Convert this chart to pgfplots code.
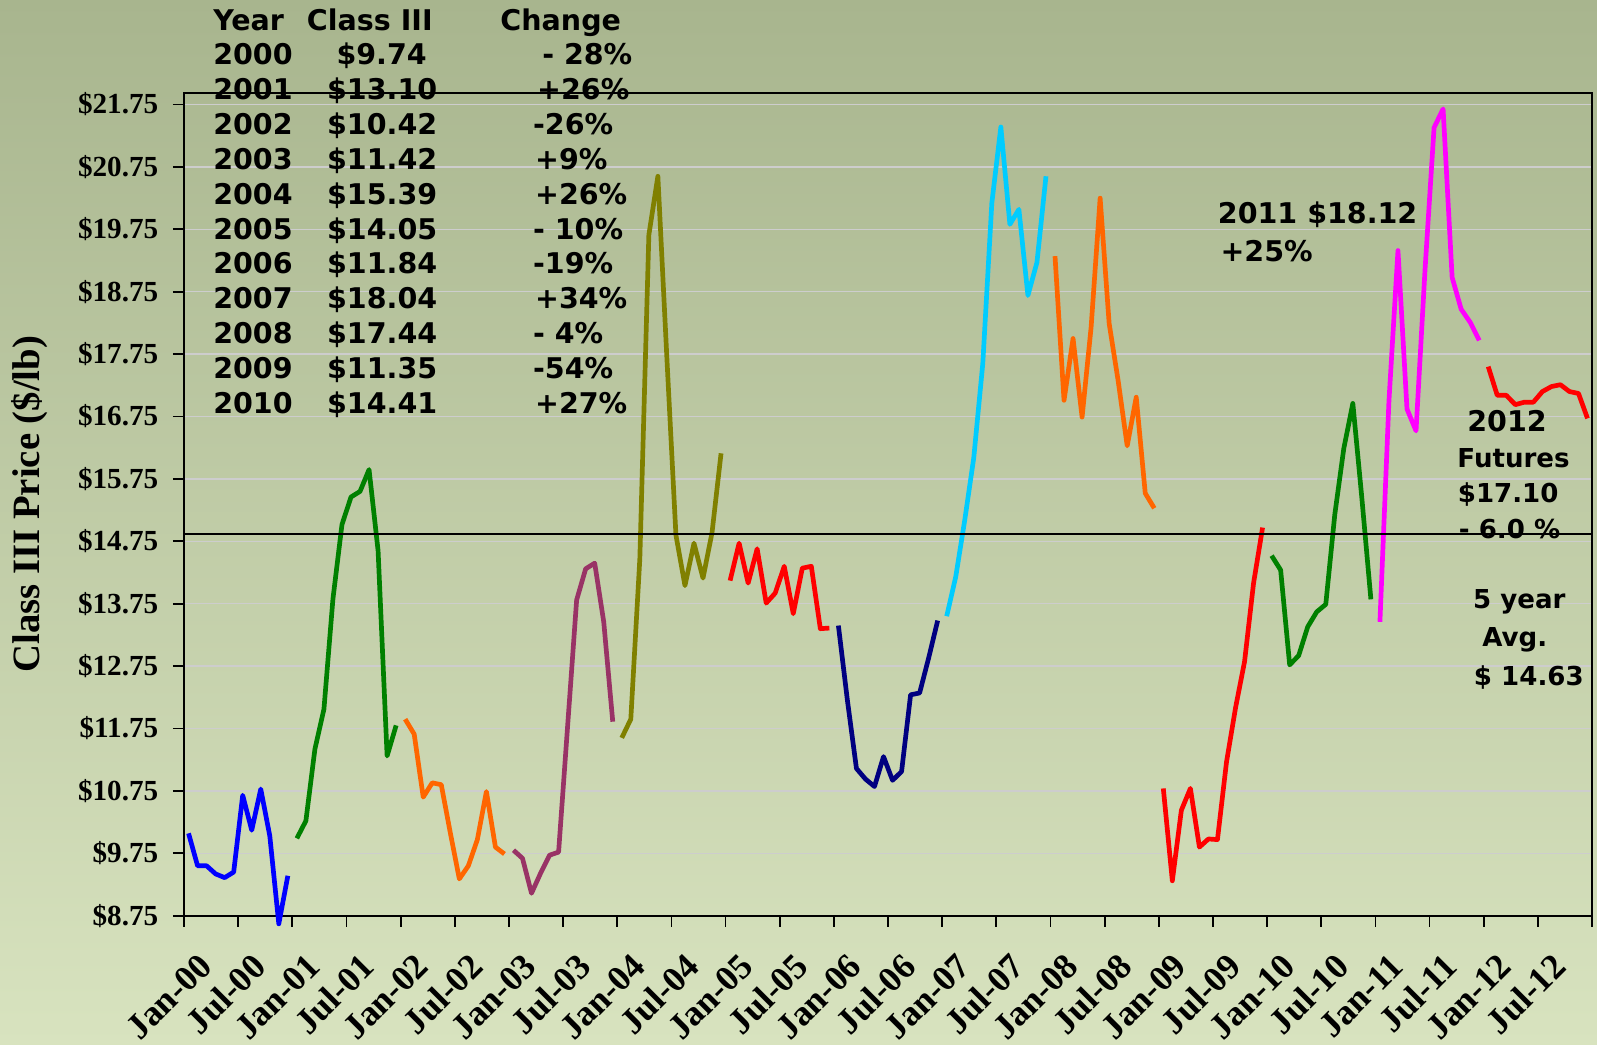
\documentclass[border=0pt]{standalone}
\usepackage{pgfplots}
\pgfplotsset{compat=1.18}
\usepackage{fontspec}
\setmainfont{Liberation Serif}
\newfontfamily\ann{DejaVu Sans}
\usetikzlibrary{shadings}
\definecolor{bgtop}{RGB}{168,181,142}
\definecolor{bgbot}{RGB}{216,227,191}
\definecolor{gridc}{RGB}{205,205,205}
\definecolor{cA}{RGB}{0,0,255}
\definecolor{cB}{RGB}{0,128,0}
\definecolor{cC}{RGB}{255,102,0}
\definecolor{cD}{RGB}{153,51,102}
\definecolor{cE}{RGB}{128,128,0}
\definecolor{cF}{RGB}{255,0,0}
\definecolor{cG}{RGB}{0,0,128}
\definecolor{cH}{RGB}{0,204,255}
\definecolor{cI}{RGB}{255,0,255}
\newcommand\tb[3]{\node[anchor=base west,inner sep=0pt,font=\ann\bfseries\fontsize{14}{14}\selectfont] at (#1pt,#2pt) {#3};}
\newcommand\ts[3]{\node[anchor=base west,inner sep=0pt,font=\ann\bfseries\fontsize{12.8}{12.8}\selectfont] at (#1pt,#2pt) {#3};}
\begin{document}
\begin{tikzpicture}
\useasboundingbox (0,0) rectangle (784pt,513pt);
\fill[top color=bgtop, bottom color=bgbot] (0,0) rectangle (784pt,513pt);
\begin{axis}[
  at={(90.35pt,63.45pt)}, anchor=south west,
  width=691.2pt, height=404.05pt, scale only axis,
  xmin=0, xmax=156, ymin=8.75, ymax=21.94,
  clip=false,
  axis line style={black, line width=0.9pt},
  xtick={0,6,...,156},
  xticklabels={Jan-00,Jul-00,Jan-01,Jul-01,Jan-02,Jul-02,Jan-03,Jul-03,Jan-04,Jul-04,Jan-05,Jul-05,Jan-06,Jul-06,Jan-07,Jul-07,Jan-08,Jul-08,Jan-09,Jul-09,Jan-10,Jul-10,Jan-11,Jul-11,Jan-12,Jul-12,{}},
  ytick={8.75,9.75,10.75,11.75,12.75,13.75,14.75,15.75,16.75,17.75,18.75,19.75,20.75,21.75},
  yticklabels={\$8.75,\$9.75,\$10.75,\$11.75,\$12.75,\$13.75,\$14.75,\$15.75,\$16.75,\$17.75,\$18.75,\$19.75,\$20.75,\$21.75},
  tick pos=left, tick align=outside, major tick length=5.5pt,
  tick style={black, line width=0.85pt},
  ymajorgrids, major grid style={gridc, line width=0.65pt},
  yticklabel style={font=\bfseries\fontsize{14.3}{14.3}\selectfont, anchor=east, inner sep=0pt, xshift=-7pt},
  xticklabel style={font=\bfseries\fontsize{17.5}{17.5}\selectfont, rotate=45, anchor=east, inner sep=0pt, xshift=-4pt, yshift=-19pt},
  ylabel={Class III Price (\$/lb)},
  ylabel style={font=\bfseries\fontsize{19}{19}\selectfont, at={(axis description cs:-0.110,0.5)}, anchor=center},
  every axis plot/.append style={line width=2.3pt, line join=round, mark=none},
]
% 2000
\addplot[cA] coordinates {(0.5,10.07)(1.5,9.55)(2.5,9.55)(3.5,9.42)(4.5,9.36)(5.5,9.45)(6.5,10.68)(7.5,10.12)(8.5,10.78)(9.5,10.03)(10.5,8.62)(11.5,9.39)};
% 2001
\addplot[cB] coordinates {(12.5,9.99)(13.5,10.27)(14.5,11.42)(15.5,12.06)(16.5,13.83)(17.5,15.02)(18.5,15.46)(19.5,15.55)(20.5,15.90)(21.5,14.60)(22.5,11.31)(23.5,11.80)};
% 2002
\addplot[cC] coordinates {(24.5,11.90)(25.5,11.66)(26.5,10.65)(27.5,10.88)(28.5,10.85)(29.5,10.08)(30.5,9.34)(31.5,9.55)(32.5,9.97)(33.5,10.74)(34.5,9.85)(35.5,9.74)};
% 2003
\addplot[cD] coordinates {(36.5,9.80)(37.5,9.67)(38.5,9.11)(39.5,9.43)(40.5,9.72)(41.5,9.77)(42.5,11.79)(43.5,13.81)(44.5,14.31)(45.5,14.40)(46.5,13.46)(47.5,11.86)};
% 2004
\addplot[cE] coordinates {(48.5,11.60)(49.5,11.90)(50.5,14.47)(51.5,19.66)(52.5,20.60)(53.5,17.68)(54.5,14.85)(55.5,14.04)(56.5,14.72)(57.5,14.16)(58.5,14.89)(59.5,16.16)};
% 2005
\addplot[cF] coordinates {(60.5,14.12)(61.5,14.72)(62.5,14.08)(63.5,14.63)(64.5,13.76)(65.5,13.92)(66.5,14.35)(67.5,13.59)(68.5,14.32)(69.5,14.35)(70.5,13.35)(71.5,13.36)};
% 2006
\addplot[cG] coordinates {(72.5,13.40)(73.5,12.20)(74.5,11.11)(75.5,10.94)(76.5,10.82)(77.5,11.30)(78.5,10.92)(79.5,11.06)(80.5,12.29)(81.5,12.32)(82.5,12.88)(83.5,13.48)};
% 2007
\addplot[cH] coordinates {(84.5,13.55)(85.5,14.18)(86.5,15.09)(87.5,16.09)(88.5,17.60)(89.5,20.17)(90.5,21.39)(91.5,19.83)(92.5,20.07)(93.5,18.69)(94.5,19.22)(95.5,20.60)};
% 2008
\addplot[cC] coordinates {(96.5,19.32)(97.5,17.01)(98.5,18.00)(99.5,16.74)(100.5,18.18)(101.5,20.25)(102.5,18.24)(103.5,17.32)(104.5,16.28)(105.5,17.06)(106.5,15.52)(107.5,15.28)};
% 2009
\addplot[cF] coordinates {(108.5,10.79)(109.5,9.31)(110.5,10.44)(111.5,10.79)(112.5,9.85)(113.5,9.98)(114.5,9.97)(115.5,11.21)(116.5,12.08)(117.5,12.82)(118.5,14.08)(119.5,14.97)};
% 2010
\addplot[cB] coordinates {(120.5,14.52)(121.5,14.29)(122.5,12.77)(123.5,12.92)(124.5,13.38)(125.5,13.62)(126.5,13.74)(127.5,15.18)(128.5,16.24)(129.5,16.96)(130.5,15.44)(131.5,13.82)};
% 2011
\addplot[cI] coordinates {(132.5,13.46)(133.5,17.00)(134.5,19.41)(135.5,16.87)(136.5,16.52)(137.5,19.11)(138.5,21.38)(139.5,21.68)(140.5,18.98)(141.5,18.47)(142.5,18.26)(143.5,17.97)};
% 2012 futures
\addplot[cF] coordinates {(144.5,17.55)(145.5,17.09)(146.5,17.09)(147.5,16.94)(148.5,16.98)(149.5,16.98)(150.5,17.15)(151.5,17.23)(152.5,17.26)(153.5,17.15)(154.5,17.12)(155.5,16.72)};
% average line
\addplot[black, line width=0.9pt] coordinates {(0,14.87)(156,14.87)};
\end{axis}
% table
\tb{104.5}{498.25}{Year}
\tb{150.5}{498.25}{Class III}
\tb{245.5}{498.25}{Change}
\tb{104.5}{481.15}{2000}\tb{165}{481.15}{\$9.74}\tb{266}{481.15}{- 28\%}
\tb{104.5}{464.05}{2001}\tb{160.4}{464.05}{\$13.10}\tb{263.5}{464.05}{+26\%}
\tb{104.5}{446.95}{2002}\tb{160.4}{446.95}{\$10.42}\tb{261.5}{446.95}{-26\%}
\tb{104.5}{429.85}{2003}\tb{160.4}{429.85}{\$11.42}\tb{262.5}{429.85}{+9\%}
\tb{104.5}{412.75}{2004}\tb{160.4}{412.75}{\$15.39}\tb{262.5}{412.75}{+26\%}
\tb{104.5}{395.65}{2005}\tb{160.4}{395.65}{\$14.05}\tb{261.5}{395.65}{- 10\%}
\tb{104.5}{378.55}{2006}\tb{160.4}{378.55}{\$11.84}\tb{261.5}{378.55}{-19\%}
\tb{104.5}{361.45}{2007}\tb{160.4}{361.45}{\$18.04}\tb{262.5}{361.45}{+34\%}
\tb{104.5}{344.35}{2008}\tb{160.4}{344.35}{\$17.44}\tb{261.5}{344.35}{- 4\%}
\tb{104.5}{327.25}{2009}\tb{160.4}{327.25}{\$11.35}\tb{261.5}{327.25}{-54\%}
\tb{104.5}{310.15}{2010}\tb{160.4}{310.15}{\$14.41}\tb{262.5}{310.15}{+27\%}
% 2011
\tb{597.7}{403.35}{2011 \$18.12}
\tb{599}{384.5}{+25\%}
% 2012 futures
\tb{720.15}{301.05}{2012}
\ts{715.3}{283.5}{Futures}
\ts{715.5}{266.2}{\$17.10}
\ts{716}{248.7}{- 6.0 \%}
% 5 year avg
\ts{723}{214.3}{5 year}
\ts{727.5}{195.5}{Avg.}
\ts{723.4}{176.7}{\$ 14.63}
\end{tikzpicture}
\end{document}
